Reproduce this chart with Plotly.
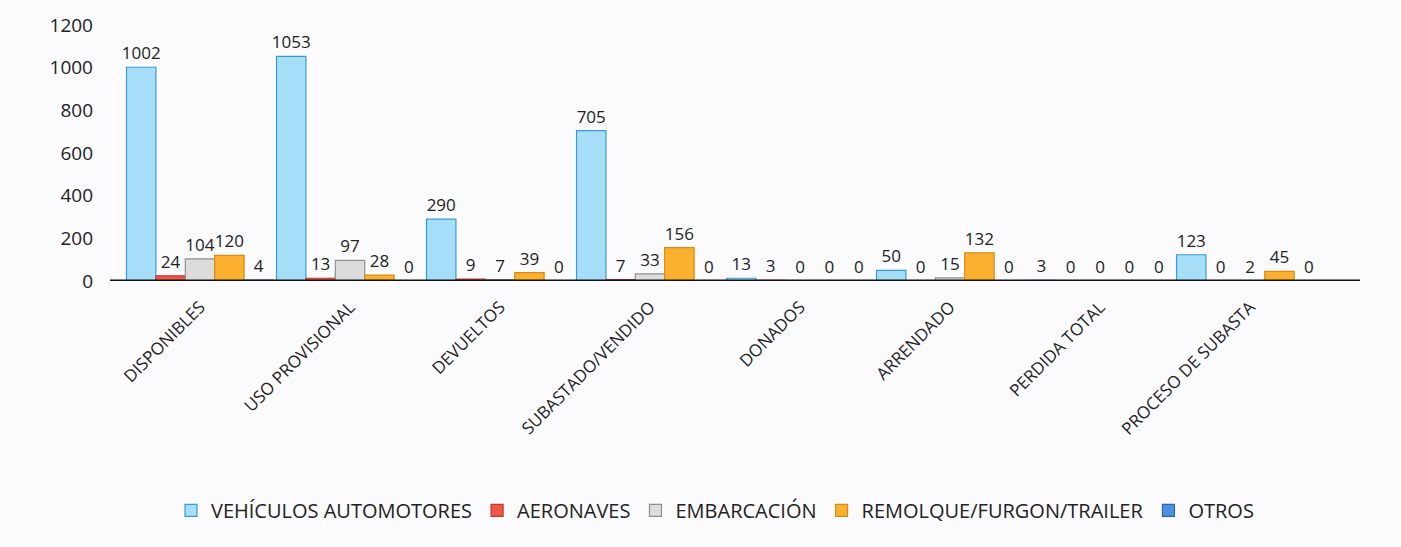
import plotly.graph_objects as go

categories = ["DISPONIBLES", "USO PROVISIONAL", "DEVUELTOS", "SUBASTADO/VENDIDO",
              "DONADOS", "ARRENDADO", "PERDIDA TOTAL", "PROCESO DE SUBASTA"]
vehiculos = [1002, 1053, 290, 705, 13, 50, 3, 123]
aeronaves = [24, 13, 9, 7, 3, 0, 0, 0]
embarcacion = [104, 97, 7, 33, 0, 15, 0, 2]
remolque = [120, 28, 39, 156, 0, 132, 0, 45]
otros = [4, 0, 0, 0, 0, 0, 0, 0]

series = [
    ("VEHÍCULOS AUTOMOTORES", vehiculos, "#a6def8", "#3a9ad9"),
    ("AERONAVES", aeronaves, "#f0554a", "#c0392b"),
    ("EMBARCACIÓN", embarcacion, "#dcdcdc", "#909090"),
    ("REMOLQUE/FURGON/TRAILER", remolque, "#fbb12f", "#d98a10"),
    ("OTROS", otros, "#4a8fe0", "#2a64b8"),
]

FONT = "Open Sans"
fig = go.Figure()
for name, vals, fill, edge in series:
    fig.add_trace(go.Bar(
        name=name, x=categories, y=vals,
        marker=dict(color=fill, line=dict(color=edge, width=1.2)),
        text=[str(v) for v in vals], textposition="outside",
        constraintext="none", cliponaxis=False,
        textfont=dict(size=17, color="#222222", family=FONT),
    ))

fig.update_layout(
    barmode="group", bargap=0.02, bargroupgap=0.0,
    width=1401, height=547,
    paper_bgcolor="#fbfafd", plot_bgcolor="#fbfafd",
    margin=dict(l=110, r=41, t=22, b=266),
    font=dict(family=FONT, size=16, color="#222222"),
    showlegend=True,
    legend=dict(orientation="h", x=0.484, xanchor="center", y=-0.896, yanchor="middle",
                font=dict(size=20, color="#222222", family=FONT),
                bgcolor="rgba(0,0,0,0)"),
    xaxis=dict(range=[-0.6, 7.733], tickangle=-45, showgrid=False,
               showline=False, zeroline=False, ticks="", ticklabelstandoff=12,
               tickfont=dict(size=17, color="#222222")),
    yaxis=dict(range=[0, 1200], dtick=200, showgrid=False, zeroline=False,
               showline=False, ticks="", ticklabelstandoff=16,
               tickfont=dict(size=19, color="#222222")),
)
fig.add_shape(type="line", xref="paper", yref="y", x0=0, x1=1, y0=0, y1=0,
              line=dict(color="#111111", width=3))

fig.write_html("out.html", config={"displayModeBar": False},
               post_script="document.body.style.margin='0px';")
